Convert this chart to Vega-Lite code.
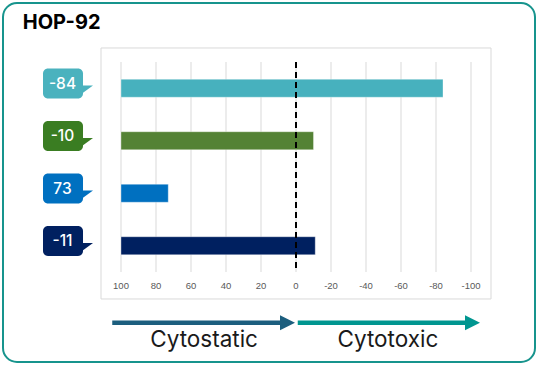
{
  "$schema": "https://vega.github.io/schema/vega-lite/v6.json",
  "width": 532,
  "height": 359,
  "autosize": {"type": "none"},
  "padding": 3,
  "background": "white",
  "config": {"view": {"stroke": "#17948d", "strokeWidth": 2, "cornerRadius": 14}},
  "data": {"values": [{}]},
  "datasets": {
    "bars": [
      {"series": "S1", "order": 1, "value": -84},
      {"series": "S2", "order": 2, "value": -10},
      {"series": "S3", "order": 3, "value": 73},
      {"series": "S4", "order": 4, "value": -11}
    ],
    "ticks": [
      {"tick": 100}, {"tick": 80}, {"tick": 60}, {"tick": 40}, {"tick": 20}, {"tick": 0},
      {"tick": -20}, {"tick": -40}, {"tick": -60}, {"tick": -80}, {"tick": -100}
    ]
  },
  "layer": [
    {
      "data": {"name": "ticks"},
      "mark": {"type": "rule", "color": "#d9d9d9", "strokeWidth": 1},
      "encoding": {
        "x": {"field": "tick", "type": "quantitative", "axis": null, "scale": {"domain": [-136.57, 167.43], "reverse": true, "nice": false, "zero": false, "padding": 0}},
        "y": {"datum": 0.5, "type": "quantitative", "axis": null, "scale": {"domain": [-0.6238, 6.2143], "reverse": true, "nice": false, "zero": false, "padding": 0}},
        "y2": {"datum": 4.5}
      }
    },
    {
      "data": {"name": "ticks"},
      "mark": {"type": "text", "font": "Liberation Sans", "fontSize": 9.5, "color": "#595959", "align": "center", "baseline": "middle"},
      "encoding": {
        "x": {"field": "tick", "type": "quantitative", "axis": null},
        "y": {"datum": 4.772, "type": "quantitative", "axis": null},
        "text": {"field": "tick", "type": "nominal"}
      }
    },
    {
      "mark": {"type": "rect", "fillOpacity": 0, "stroke": "#d9d9d9", "strokeWidth": 1},
      "encoding": {
        "x": {"datum": 111.43, "type": "quantitative", "axis": null},
        "x2": {"datum": -111.43},
        "y": {"datum": 0.233, "type": "quantitative", "axis": null},
        "y2": {"datum": 5.014}
      }
    },
    {
      "mark": {"type": "text", "font": "Inter", "fontSize": 20, "fontWeight": "bold", "color": "#000000", "align": "left", "baseline": "alphabetic"},
      "encoding": {
        "x": {"datum": 156.17, "type": "quantitative", "axis": null},
        "y": {"datum": -0.1286, "type": "quantitative", "axis": null},
        "text": {"value": "HOP-92"}
      }
    },
    {
      "data": {"name": "bars"},
      "mark": {"type": "bar", "orient": "horizontal", "size": 18, "stroke": "white", "strokeOpacity": 0.35, "strokeWidth": 1},
      "encoding": {
        "x": {"field": "value", "type": "quantitative", "axis": null},
        "x2": {"datum": 100},
        "y": {"field": "order", "type": "quantitative", "axis": null},
        "color": {"field": "series", "type": "nominal", "legend": null, "scale": {"domain": ["S1", "S2", "S3", "S4"], "range": ["#47b1be", "#548235", "#0070c0", "#002060"]}}
      }
    },
    {
      "mark": {"type": "rule", "color": "#000000", "strokeWidth": 2, "strokeDash": [6, 4]},
      "encoding": {
        "x": {"datum": 0, "type": "quantitative", "axis": null},
        "y": {"datum": 0.5, "type": "quantitative", "axis": null},
        "y2": {"datum": 4.5}
      }
    },
    {
      "data": {"name": "bars"},
      "mark": {"type": "bar", "orient": "horizontal", "size": 30, "cornerRadius": 5, "yOffset": -4.8},
      "encoding": {
        "x": {"datum": 144.57, "type": "quantitative", "axis": null},
        "x2": {"datum": 121.71},
        "y": {"field": "order", "type": "quantitative", "axis": null},
        "fill": {"field": "series", "type": "nominal", "legend": null, "scale": {"domain": ["S1", "S2", "S3", "S4"], "range": ["#4ab2be", "#3a7d22", "#0070c0", "#002060"]}}
      }
    },
    {
      "data": {"name": "bars"},
      "mark": {"type": "point", "shape": "M -1 -0.727 L 1 -0.727 L -1 0.727 Z", "size": 121, "filled": true, "opacity": 1, "strokeWidth": 0, "yOffset": 1.2},
      "encoding": {
        "x": {"datum": 119.14, "type": "quantitative", "axis": null},
        "y": {"field": "order", "type": "quantitative", "axis": null},
        "fill": {"field": "series", "type": "nominal", "legend": null}
      }
    },
    {
      "data": {"name": "bars"},
      "mark": {"type": "text", "font": "Inter", "fontSize": 15.5, "fontWeight": 500, "color": "white", "align": "center", "baseline": "middle", "yOffset": -4.3},
      "encoding": {
        "x": {"datum": 133.43, "type": "quantitative", "axis": null},
        "y": {"field": "order", "type": "quantitative", "axis": null},
        "text": {"field": "value", "type": "nominal"}
      }
    },
    {
      "mark": {"type": "rule", "color": "#1c5e7e", "strokeWidth": 4.5},
      "encoding": {
        "x": {"datum": 105, "type": "quantitative", "axis": null},
        "x2": {"datum": 7},
        "y": {"datum": 5.466, "type": "quantitative", "axis": null}
      }
    },
    {
      "mark": {"type": "point", "shape": "M -1 -1 L 1 0 L -1 1 Z", "size": 225, "filled": true, "opacity": 1, "strokeWidth": 0, "color": "#1c5e7e"},
      "encoding": {
        "x": {"datum": 4.857, "type": "quantitative", "axis": null},
        "y": {"datum": 5.466, "type": "quantitative", "axis": null}
      }
    },
    {
      "mark": {"type": "rule", "color": "#009690", "strokeWidth": 4.5},
      "encoding": {
        "x": {"datum": -1, "type": "quantitative", "axis": null},
        "x2": {"datum": -98},
        "y": {"datum": 5.466, "type": "quantitative", "axis": null}
      }
    },
    {
      "mark": {"type": "point", "shape": "M -1 -1 L 1 0 L -1 1 Z", "size": 225, "filled": true, "opacity": 1, "strokeWidth": 0, "color": "#009690"},
      "encoding": {
        "x": {"datum": -100.86, "type": "quantitative", "axis": null},
        "y": {"datum": 5.466, "type": "quantitative", "axis": null}
      }
    },
    {
      "mark": {"type": "text", "font": "Inter", "fontSize": 22.5, "color": "#1a1a1a", "align": "center", "baseline": "alphabetic"},
      "encoding": {
        "x": {"datum": 52.5, "type": "quantitative", "axis": null},
        "y": {"datum": 5.922, "type": "quantitative", "axis": null},
        "text": {"value": "Cytostatic"}
      }
    },
    {
      "mark": {"type": "text", "font": "Inter", "fontSize": 22.5, "color": "#1a1a1a", "align": "center", "baseline": "alphabetic"},
      "encoding": {
        "x": {"datum": -52.5, "type": "quantitative", "axis": null},
        "y": {"datum": 5.922, "type": "quantitative", "axis": null},
        "text": {"value": "Cytotoxic"}
      }
    }
  ]
}
